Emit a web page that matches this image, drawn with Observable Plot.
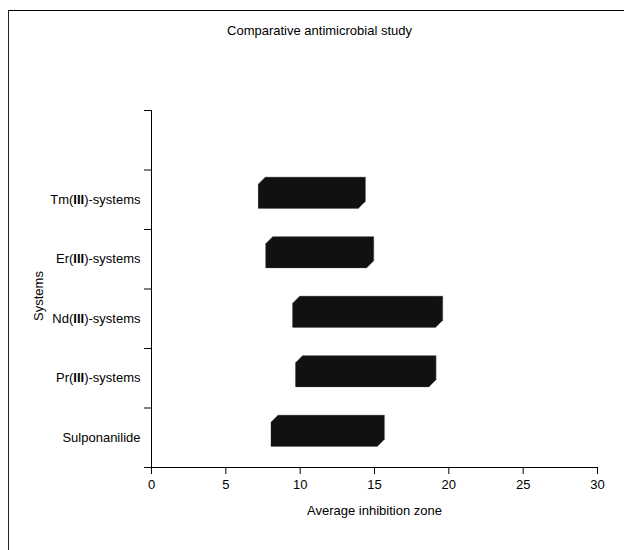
<!DOCTYPE html>
<html><head><meta charset="utf-8">
<script src="https://cdn.jsdelivr.net/npm/d3@7"></script>
<script src="https://cdn.jsdelivr.net/npm/@observablehq/plot@0.6"></script>
<style>
body{margin:0;background:#fff;}
#wrap{position:relative;width:624px;height:550px;}
#border{position:absolute;left:8px;top:10px;right:0;bottom:0;border-top:1px solid #000;border-left:1.5px solid #222;pointer-events:none;}
</style></head><body><div id="wrap"><div id="border"></div></div>
<script>
const categories = ["Sulponanilide", "Pr(III)-systems", "Nd(III)-systems", "Er(III)-systems", "Tm(III)-systems"];
const zoneStart = [8.07, 9.73, 9.53, 7.72, 7.22];
const zoneEnd = [15.24, 18.71, 19.16, 14.52, 13.96];
const xTicks = [0, 5, 10, 15, 20, 25, 30];
const slotTicks = [0, 1, 2, 3, 4, 5, 6];
const title = "Comparative antimicrobial study";
const xLabel = "Average inhibition zone";
const yLabel = "Systems";

const rows = categories.map((c, i) => ({category: c, start: zoneStart[i], end: zoneEnd[i], pos: i + 0.5}));

const DEPTH = 7;
const lo = d => d.pos - 0.153;
const hi = d => d.pos + 0.255;

function extrusion(index, scales) {
  const {x, y} = scales;
  const g = d3.create("svg:g");
  g.selectAll("path").data(rows).join("path")
    .attr("fill", "#111")
    .attr("stroke", "#888")
    .attr("stroke-width", 0.5)
    .attr("d", d => {
      const x0 = x(d.start), x1 = x(d.end), yt = y(hi(d)), yb = y(lo(d));
      return `M${x0},${yb}L${x0},${yt}L${x0 + DEPTH},${yt - DEPTH}L${x1 + DEPTH},${yt - DEPTH}L${x1 + DEPTH},${yb - DEPTH}L${x1},${yb}Z`;
    });
  return g.node();
}

const chart = Plot.plot({
  width: 624,
  height: 550,
  marginLeft: 151,
  marginRight: 27,
  marginTop: 110,
  marginBottom: 83,
  style: {fontFamily: "'Liberation Sans', Arial, sans-serif", fontSize: "13px", color: "#000", background: "transparent"},
  x: {domain: [0, 30], ticks: xTicks, tickSize: 7, tickPadding: 5, label: null, line: true},
  y: {domain: [0, 6], ticks: slotTicks, tickFormat: () => "", tickSize: 7, label: null, line: true},
  marks: [
    extrusion,
    Plot.rect(rows, {x1: "start", x2: "end", y1: lo, y2: hi, fill: "#111"}),
    Plot.text(rows, {y: "pos", text: "category", frameAnchor: "left", dx: -11, textAnchor: "end", className: "cat-labels"}),
    Plot.text([title], {text: d => d, frameAnchor: "top", lineAnchor: "middle", dx: -55, dy: -80}),
    Plot.text([xLabel], {text: d => d, frameAnchor: "bottom", lineAnchor: "middle", dy: 43}),
    Plot.text([yLabel], {text: d => d, frameAnchor: "left", textAnchor: "middle", dx: -113, dy: 7, rotate: -90})
  ]
});

// render the "(III)" part of the labels in bold, as in the original
d3.select(chart).selectAll("g.cat-labels text").each(function() {
  const t = d3.select(this);
  const s = t.text();
  const m = s.match(/^(.*\()(III)(\).*)$/);
  if (m) {
    t.text(null);
    t.append("tspan").text(m[1]);
    t.append("tspan").attr("font-weight", "bold").text(m[2]);
    t.append("tspan").text(m[3]);
  }
});

document.getElementById("wrap").appendChild(chart);
</script>
</body></html>
